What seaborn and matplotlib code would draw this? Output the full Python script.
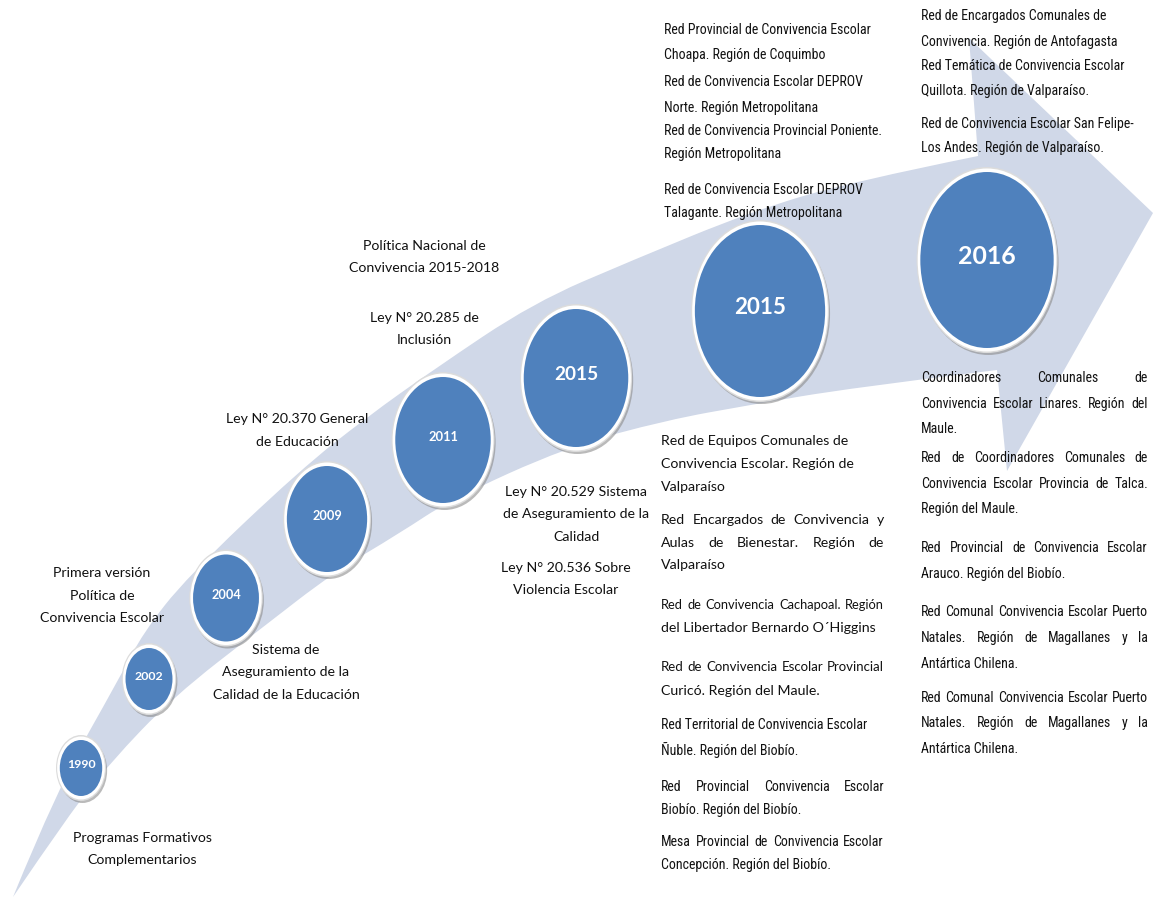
import numpy as np
import matplotlib
matplotlib.use("Agg")
import matplotlib.pyplot as plt
import seaborn as sns
import pandas as pd
from matplotlib.path import Path
from matplotlib.patches import PathPatch
from matplotlib.transforms import Affine2D, ScaledTranslation
from matplotlib import font_manager

# ---------------- data ----------------
years = ["1990", "2002", "2004", "2009", "2011", "2015", "2015", "2016"]

left_milestones = [
    ["Programas Formativos", "Complementarios"],
    ["Primera versión", "Política de", "Convivencia Escolar"],
    ["Sistema de", "Aseguramiento de la", "Calidad de la Educación"],
    ["Ley N° 20.370 General", "de Educación"],
    ["Política Nacional de", "Convivencia 2015-2018"],
    ["Ley N° 20.285 de", "Inclusión"],
    ["Ley N° 20.529 Sistema", "de Aseguramiento de la", "Calidad"],
    ["Ley N° 20.536 Sobre", "Violencia Escolar"],
]

redes_2015_top = [
    ["Red Provincial de Convivencia Escolar", "Choapa. Región de Coquimbo"],
    ["Red de Convivencia Escolar DEPROV", "Norte. Región Metropolitana"],
    ["Red de Convivencia Provincial Poniente.", "Región Metropolitana"],
    ["Red de Convivencia Escolar DEPROV", "Talagante. Región Metropolitana"],
]

redes_2016_top = [
    ["Red de Encargados Comunales de", "Convivencia. Región de Antofagasta"],
    ["Red Temática de Convivencia Escolar", "Quillota. Región de Valparaíso."],
    ["Red de Convivencia Escolar San Felipe-", "Los Andes. Región de Valparaíso."],
]

redes_2015_bottom = [
    ["Red de Equipos Comunales de", "Convivencia Escolar. Región de", "Valparaíso"],
    ["Red Encargados de Convivencia y", "Aulas de Bienestar. Región de", "Valparaíso"],
    ["Red de Convivencia Cachapoal. Región", "del Libertador Bernardo O´Higgins"],
    ["Red de Convivencia Escolar Provincial", "Curicó. Región del Maule."],
    ["Red Territorial de Convivencia Escolar", "Ñuble. Región del Biobío."],
    ["Red Provincial Convivencia Escolar", "Biobío. Región del Biobío."],
    ["Mesa Provincial de Convivencia Escolar", "Concepción. Región del Biobío."],
]

redes_2016_bottom = [
    ["Coordinadores Comunales de", "Convivencia Escolar Linares. Región del", "Maule."],
    ["Red de Coordinadores Comunales de", "Convivencia Escolar Provincia de Talca.", "Región del Maule."],
    ["Red Provincial de Convivencia Escolar", "Arauco. Región del Biobío."],
    ["Red Comunal Convivencia Escolar Puerto", "Natales. Región de Magallanes y la", "Antártica Chilena."],
    ["Red Comunal Convivencia Escolar Puerto", "Natales. Región de Magallanes y la", "Antártica Chilena."],
]

# ---------------- layout (pixels) ----------------
W, H, DPI = 1153, 899, 100
circle_x = [81, 149, 226, 327, 443, 576, 760, 987]
circle_y = [768, 679, 598, 519, 440, 378, 311, 260]
circle_h = [56, 62, 87, 106, 126, 138, 172, 176]
year_w = [29, 29, 30, 30, 30, 44, 52, 58]
ASPECT = 1.32

left_cx = [142, 102, 286, 297, 424, 424, 576, 566]
left_y0 = [838, 573, 650, 419, 246, 318, 492, 568]
LEFT_GAP = 22.5

top15_x, top15_y = 664, [[30, 55], [82, 108], [131, 154], [190, 213]]
top16_x, top16_y = 921, [[16, 42], [66, 91], [124, 148]]
bot15_x0, bot15_x1 = 661, 884
bot15_y = [[441, 464, 487], [520, 543, 565], [605, 628], [667, 691], [725, 750], [787, 810], [842, 865]]
bot15_just = [False, True, True, True, False, True, True]
bot15_font = ["reg", "reg", "reg", "reg", "nar", "nar", "nar"]
bot16_x0, bot16_x1 = 921, 1148
bot16_y = [[378, 404, 429], [458, 484, 509], [548, 574], [612, 638, 664], [698, 723, 749]]

band_upper = [(13, 897), (58, 787), (120, 677), (143, 633), (187, 577), (300, 470), (367, 417),
              (433, 370), (533, 303), (633, 260), (750, 212), (850, 182), (978, 156)]
arrow_head = [(969, 38), (1153, 213), (1007, 471), (997, 370)]
band_lower = [(997, 370), (850, 388), (750, 405), (667, 420), (567, 447), (450, 500), (400, 533),
              (333, 573), (263, 627), (173, 697), (110, 763), (70, 813), (13, 897)]

BAND = "#D0D8E8"
BLUE = "#4F81BD"
INK = "#111111"

# ---------------- style ----------------
sns.set_theme(style="white")
available = {f.name for f in font_manager.fontManager.ttflist}


def pick(*names):
    for n in names:
        if n in available:
            return n
    return "DejaVu Sans"


REG = pick("Lato", "Open Sans", "Noto Sans")
NAR = pick("Liberation Sans Narrow", "Roboto Condensed", "Lato")
plt.rcParams["font.family"] = [REG, "DejaVu Sans"]

fig = plt.figure(figsize=(W / DPI, H / DPI), dpi=DPI)
ax = fig.add_axes([0, 0, 1, 1])
renderer = fig.canvas.get_renderer()


def twidth(s, fam, size, weight="normal"):
    t = ax.text(0, 0, s, fontfamily=fam, fontsize=size, fontweight=weight)
    w = t.get_window_extent(renderer).width
    t.remove()
    return w


def fit(s, target, fam, weight="normal"):
    return 10.0 * target / twidth(s, fam, 10, weight)


fs_reg = fit("Calidad de la Educación", 146, REG)
fs_nar = fit("Red de Convivencia Provincial Poniente.", 217, NAR)
fonts = {"reg": (REG, fs_reg), "nar": (NAR, fs_nar)}

# ---------------- band arrow ----------------
def spline(pts, first=True):
    pts = [np.array(p, float) for p in pts]
    verts = [pts[0]]
    codes = [Path.MOVETO if first else Path.LINETO]
    n = len(pts)
    for i in range(1, n - 1):
        end = pts[i + 1] if i == n - 2 else (pts[i] + pts[i + 1]) / 2
        verts += [pts[i], end]
        codes += [Path.CURVE3, Path.CURVE3]
    return verts, codes


v1, c1 = spline(band_upper, True)
v2 = [np.array(p, float) for p in arrow_head[:-1]]
c2 = [Path.LINETO] * len(v2)
v3, c3 = spline(band_lower, False)
verts = v1 + v2 + v3 + [v1[0]]
codes = c1 + c2 + c3 + [Path.CLOSEPOLY]
ax.add_patch(PathPatch(Path(verts, codes), facecolor=BAND, edgecolor="none", zorder=1))

# ---------------- circles ----------------
df = pd.DataFrame({"year": years, "x": circle_x, "y": circle_y, "h": circle_h})
ell = Path.unit_circle().transformed(Affine2D().scale(1 / ASPECT, 1))
px2pt = 72.0 / DPI
h = df["h"].to_numpy(float)

# soft shadow (lower right)
sns.scatterplot(data=df, x="x", y="y", s=((h + 9) * px2pt) ** 2, marker=ell, color="#8c8c8c",
                edgecolor="none", linewidth=0, alpha=0.6, legend=False, ax=ax, zorder=2)
ax.collections[-1].set_offset_transform(
    ax.transData + ScaledTranslation(1.5 / DPI, -2.5 / DPI, fig.dpi_scale_trans))
# light grey outline
sns.scatterplot(data=df, x="x", y="y", s=((h + 10) * px2pt) ** 2, marker=ell, color="#dcdcdc",
                edgecolor="none", linewidth=0, legend=False, ax=ax, zorder=3)
# white ring
sns.scatterplot(data=df, x="x", y="y", s=((h + 7) * px2pt) ** 2, marker=ell, color="white",
                edgecolor="none", linewidth=0, legend=False, ax=ax, zorder=4)
# blue disc
sns.scatterplot(data=df, x="x", y="y", s=(h * px2pt) ** 2, marker=ell, color=BLUE,
                edgecolor="none", linewidth=0, legend=False, ax=ax, zorder=5)

for yr, x, y, w in zip(df["year"], df["x"], df["y"], year_w):
    fs = fit(yr, w, REG, "bold")
    ax.text(x, y - 3, yr, color="white", fontweight="bold", fontsize=fs, fontfamily=REG,
            ha="center", va="center", zorder=6)

# ---------------- texts ----------------
def put(x, y, s, fam, fs, ha="left"):
    ax.text(x, y, s, fontfamily=fam, fontsize=fs, color=INK, ha=ha, va="center", zorder=7)


def line_just(s, x0, x1, y, fam, fs):
    words = s.split()
    total = twidth(s, fam, fs)
    if total > (x1 - x0):
        fs = fs * (x1 - x0) / total * 0.99
    widths = [twidth(w_, fam, fs) for w_ in words]
    gap = (x1 - x0 - sum(widths)) / max(len(words) - 1, 1)
    x = x0
    for w_, wd in zip(words, widths):
        put(x, y, w_, fam, fs)
        x += wd + gap


def paragraph(lines, x0, ys, fam, fs, x1=None):
    for i, (s, y) in enumerate(zip(lines, ys)):
        if x1 is not None and i < len(lines) - 1:
            line_just(s, x0, x1, y, fam, fs)
        else:
            put(x0, y, s, fam, fs)


for lines, cx, y0 in zip(left_milestones, left_cx, left_y0):
    for i, s in enumerate(lines):
        put(cx, y0 + i * LEFT_GAP, s, REG, fs_reg, ha="center")

for lines, ys in zip(redes_2015_top, top15_y):
    paragraph(lines, top15_x, ys, NAR, fs_nar)
for lines, ys in zip(redes_2016_top, top16_y):
    paragraph(lines, top16_x, ys, NAR, fs_nar)
for lines, ys, j, fk in zip(redes_2015_bottom, bot15_y, bot15_just, bot15_font):
    fam, fs = fonts[fk]
    paragraph(lines, bot15_x0, ys, fam, fs, bot15_x1 if j else None)
for lines, ys in zip(redes_2016_bottom, bot16_y):
    paragraph(lines, bot16_x0, ys, NAR, fs_nar, bot16_x1)

ax.set_xlim(0, W)
ax.set_ylim(H, 0)
ax.axis("off")
fig.savefig("out.png", dpi=DPI, facecolor="white")
